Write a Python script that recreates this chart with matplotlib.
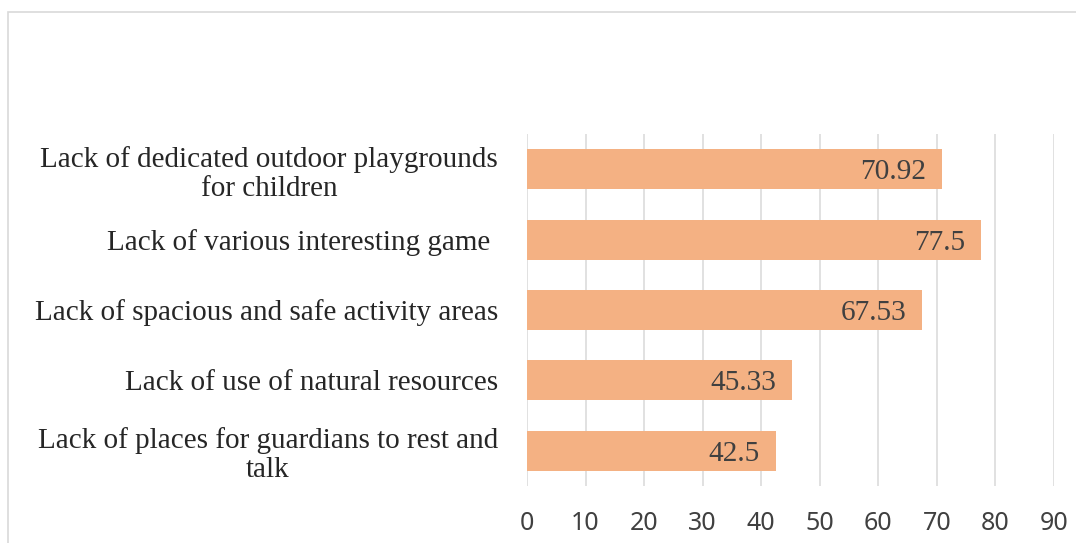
import matplotlib

matplotlib.use("Agg")
import matplotlib.pyplot as plt
from matplotlib.patches import Rectangle

# 问题类别（自下而上）与对应百分比
categories = [
    "Lack of places for guardians to rest and\ntalk",
    "Lack of use of natural resources",
    "Lack of spacious and safe activity areas",
    "Lack of various interesting game ",
    "Lack of dedicated outdoor playgrounds\nfor children",
]
values = [42.5, 45.33, 67.53, 77.5, 70.92]
value_labels = ["42.5", "45.33", "67.53", "77.5", "70.92"]
xticks = [0, 10, 20, 30, 40, 50, 60, 70, 80, 90]

W, H = 1076, 543
BAR_COLOR = "#F4B183"
GRID_COLOR = "#D9D9D9"

fig = plt.figure(figsize=(W / 100, H / 100), dpi=100)
ax = fig.add_axes([527 / W, (H - 486) / H, (1054 - 527) / W, (486 - 134) / H])

pos = list(range(len(categories)))
ax.barh(pos, values, height=0.57, color=BAR_COLOR, zorder=2)

for p, v, lab in zip(pos, values, value_labels):
    ax.annotate(lab, xy=(v, p), xytext=(-16, -3), textcoords="offset pixels",
                ha="right", va="center", fontsize=21.2,
                family="Liberation Serif", color="#404040", zorder=3)

ax.set_xlim(0, 90)
ax.set_ylim(-0.5, len(categories) - 0.5)
ax.set_xticks(xticks)
ax.set_xticklabels([str(t) for t in xticks], family="Noto Sans",
                   fontsize=18, color="#404040")
ax.set_yticks(pos)
ax.set_yticklabels(categories, family="Liberation Serif", fontsize=21,
                   color="#262626", multialignment="center", linespacing=1.15)
ax.tick_params(axis="x", length=0, pad=18)
ax.tick_params(axis="y", length=0, pad=21)
ax.grid(axis="x", color=GRID_COLOR, linewidth=1.1, zorder=0)
ax.set_axisbelow(True)
for s in ax.spines.values():
    s.set_visible(False)

# 图表外框（右、下边超出画面）
fig.patches.append(Rectangle((8 / W, -0.1), 1.2, (H - 12) / H + 0.1,
                             transform=fig.transFigure, fill=False,
                             edgecolor=GRID_COLOR, linewidth=1.2))

fig.savefig("out.png", dpi=100)
